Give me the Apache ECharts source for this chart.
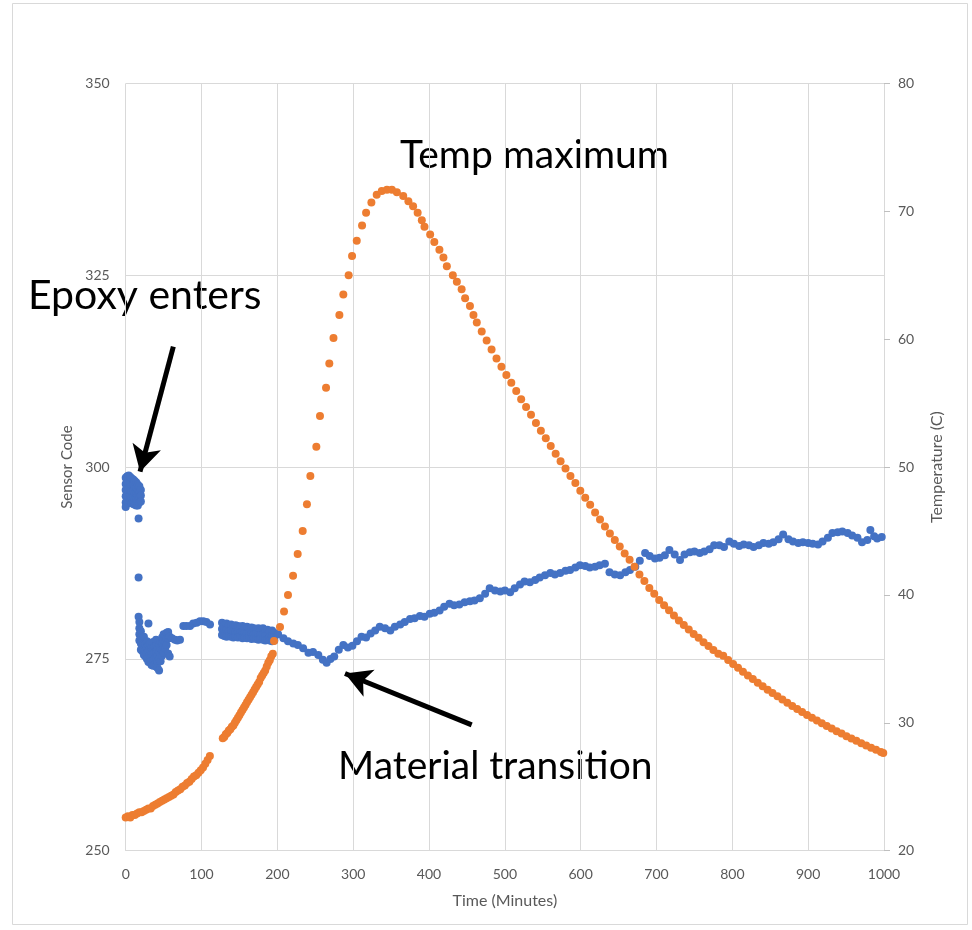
<!DOCTYPE html>
<html>
<head>
<meta charset="utf-8">
<script src="https://cdn.jsdelivr.net/npm/echarts@6/dist/echarts.min.js"></script>
<style>
html,body{margin:0;padding:0;background:#fff;}
#chart{width:972px;height:930px;}
</style>
</head>
<body>
<div id="chart"></div>
<script>
// ---- Data (time in minutes) ----
// Sensor code, early cluster (epoxy entering)
var sensorBlob = [
 [0,298.6],[0,297.8],[0,297.0],[0,296.2],[0,295.4],[0,294.8],
 [2,298.8],[2,298.0],[2,297.1],[2,296.3],[2,295.5],
 [4,298.9],[4,297.9],[4,297.2],[4,296.1],[4,295.3],
 [6,298.7],[6,297.8],[6,296.9],[6,296.2],[6,295.6],
 [8,298.5],[8,297.6],[8,296.8],[8,296.0],[8,295.3],
 [10,298.4],[10,297.7],[10,296.9],[10,296.1],[10,295.2],
 [12,298.2],[12,297.4],[12,296.6],[12,295.8],[12,295.1],
 [14,298.0],[14,297.3],[14,296.5],[14,295.7],[14,295.0],
 [16,297.7],[16,297.0],[16,296.3],[16,295.6],[16,295.0],
 [18,297.5],[18,296.8],[18,296.1],[18,295.4],
 [20,297.0],[20,296.3],[20,295.5],
 [17,293.3],[17,285.6],[17,280.5]
];
// Sensor code, dip after epoxy enters
var sensorDip = [
 [18,279.8],[18,279.0],[18,278.2],[18,277.4],
 [20,278.6],[20,277.8],[20,277.0],[20,276.2],
 [22,277.6],[22,276.8],[22,276.0],
 [24,277.9],[24,277.0],[24,276.2],[24,275.5],
 [26,276.9],[26,276.1],[26,275.3],
 [28,277.3],[28,276.5],[28,275.7],[28,275.0],
 [30,279.6],[30,276.8],[30,276.0],[30,275.2],[30,274.6],
 [32,277.0],[32,276.2],[32,275.4],[32,274.6],
 [34,276.4],[34,275.6],[34,274.8],[34,274.2],
 [36,277.2],[36,276.4],[36,275.6],[36,274.8],[36,274.1],
 [38,276.6],[38,275.8],[38,275.0],[38,274.2],
 [40,277.5],[40,276.7],[40,275.9],[40,275.1],[40,274.0],
 [42,276.3],[42,275.4],[42,274.6],[42,273.8],
 [44,276.8],[44,275.9],[44,275.0],[44,273.5],
 [46,277.3],[46,276.4],[46,275.5],[46,274.7],
 [48,277.8],[48,277.0],[48,276.2],[48,275.4],
 [50,278.2],[50,277.4],[50,276.6],[50,275.8],
 [52,278.0],[52,277.2],[52,276.4],
 [54,278.4],[54,277.6],[54,276.8],
 [56,278.5],[56,277.7],[56,275.7],
 [58,277.9],[58,275.3],
 [61,277.7],[65,277.5],[68,277.4],[71.6,277.5],
 [76,279.3],[80,279.3],[84.8,279.3],[89,279.6],[93.6,279.7],
 [98,279.9],[102.3,279.9],[106.5,279.8],[111.2,279.5]
];
// Sensor code, dense band 127-196 min
var sensorBand = [
 [127,279.7],[127,278.9],[127,278.1],[130,279.5],[130,278.7],[130,278.0],
 [133,279.6],[133,278.8],[133,277.9],[136,279.4],[136,278.6],[136,278.0],
 [139,279.5],[139,278.7],[139,277.9],[142,279.3],[142,278.6],[142,277.8],
 [145,279.4],[145,278.5],[145,277.9],[148,279.3],[148,278.6],[148,277.8],
 [151,279.2],[151,278.4],[151,277.9],[154,279.3],[154,278.5],[154,277.7],
 [157,279.1],[157,278.4],[157,277.8],[160,279.2],[160,278.3],[160,277.7],
 [163,279.0],[163,278.4],[163,277.8],[166,279.1],[166,278.3],[166,277.6],
 [169,279.0],[169,278.2],[169,277.7],[172,278.9],[172,278.3],[172,277.6],
 [175,279.0],[175,278.2],[175,277.5],[178,278.8],[178,278.1],[178,277.6],
 [181,279.0],[181,278.2],[181,277.5],[184,278.7],[184,278.0],[184,277.4],
 [187,278.8],[187,278.1],[187,277.5],[190,278.6],[190,277.9],[190,277.4],
 [193,278.7],[193,278.0],[193,277.3],[196,278.4],[196,277.8],[196,277.4]
];
// Sensor code, 200-1000 min
var sensorLate = [
 [201,278.2],[208,277.7],[214,277.3],[221,277.0],[227,276.8],[234,276.4],[241,275.8],
 [247,275.9],[254,275.5],[260,274.9],[265,274.5],[270,275.0],[275,275.3],[281,276.2],
 [287,276.8],[293,276.5],[299,276.7],[305,277.3],[311,277.9],[317,277.8],[323,278.3],
 [329,278.7],[335,279.2],[342,279.0],[349,278.7],[355,279.2],[362,279.5],[368,279.8],
 [375,280.2],[381,280.3],[388,280.6],[394,280.5],[401,280.9],[407,281.0],[414,281.3],
 [420,281.8],[427,282.2],[433,282.0],[440,282.1],[447,282.4],[454,282.5],[460,282.6],
 [467,282.9],[474,283.5],[480,284.2],[487,283.9],[494,283.8],[500,283.9],[507,283.7],
 [513,284.2],[520,284.7],[526,285.1],[533,285.0],[540,285.3],[546,285.6],[553,285.9],
 [560,286.2],[566,286.0],[573,286.2],[580,286.5],[586,286.6],[593,286.9],[599,287.2],
 [606,287.1],[612,286.9],[619,287.0],[625,287.2],[632,287.4],[638,286.3],[645,286.0],
 [652,285.9],[659,286.3],[665,286.6],[672,287.0],[678,287.8],[685,288.8],[691,288.4],
 [698,288.1],[704,288.2],[711,288.5],[717,289.2],[724,288.6],[731,287.9],[737,288.6],
 [744,288.9],[750,289.0],[757,288.8],[763,289.0],[770,289.3],[776,289.8],[783,289.8],
 [789,289.6],[796,290.3],[802,290.0],[809,289.7],[815,289.9],[822,289.8],[828,289.6],
 [835,289.8],[841,290.1],[848,290.0],[854,290.2],[861,290.6],[867,291.2],[874,290.6],
 [880,290.3],[887,290.1],[893,290.2],[900,290.1],[906,290.0],[913,289.9],[919,290.3],
 [926,290.8],[932,291.4],[939,291.5],[945,291.6],[952,291.4],[958,291.1],[965,290.8],
 [971,290.2],[978,290.5],[982,291.8],[987,291.0],[991,290.7],[997,290.9]
];
// Temperature (C)
var tempEarly = [
 [0,22.6],[3,22.7],[6,22.6],[9,22.8],[12,22.8],[15,22.9],[18,23.0],[21,23.0],
 [24,23.1],[27,23.2],[30,23.3],[33,23.3],[36,23.5],[39,23.6],[42,23.7],[45,23.8],
 [48,23.9],[51,24.0],[54,24.1],[57,24.2],[60,24.3],[63,24.4],[66,24.6],[69,24.7],
 [72,24.8],[75,25.0],[78,25.1],[81,25.3],[84,25.4],[87,25.6],[90,25.8],[93,25.9],
 [96,26.1],[99,26.3],[102,26.5],[105,26.8],[108,27.1],[111,27.4]
];
var tempBand = [
 [128,28.8],[130,28.9],[132,29.1],[134,29.2],[136,29.4],[138,29.5],[140,29.7],
 [142,29.8],[144,30.0],[146,30.2],[148,30.4],[150,30.6],[152,30.8],[154,31.0],
 [156,31.2],[158,31.4],[160,31.6],[162,31.8],[164,32.0],[166,32.2],[168,32.4],
 [170,32.6],[172,32.8],[174,33.0],[176,33.2],[178,33.5],[180,33.7],[182,33.9],
 [184,34.1],[186,34.4],[188,34.7],[190,34.9],[192,35.2],[194,35.4]
];
var tempLate = [
 [195.6,36.4],[203.5,37.5],[208.8,38.7],[214,40.0],[220.7,41.5],[226.8,43.2],
 [233.4,45.0],[239,47.1],[243.5,49.3],[251.4,51.6],[256.2,54.0],[264.2,56.2],
 [268.5,58.1],[274,60.1],[281.8,61.9],[287,63.5],[294,65.0],[298.5,66.5],
 [304.7,67.7],[311.7,68.9],[317,69.9],[324,70.7],[331,71.3],[337.7,71.6],
 [344.5,71.7],[351,71.7],[357.6,71.5],[366,71.2],[372.8,70.8],[379,70.4],
 [385,69.9],[390.5,69.3],[394,68.8],[401.5,68.2],[407,67.6],[413.7,67.0],
 [419,66.4],[423.5,65.7],[431.4,65.0],[436.7,64.5],[443,63.9],[447.6,63.2],
 [454,62.6],[458.6,61.9],[463,61.3],[469.5,60.6],[476,59.9],[482.5,59.2],
 [489,58.5],[495.5,57.85],[502,57.2],[508.5,56.6],[515,55.95],[521.5,55.3],
 [528,54.7],[534.5,54.1],[541,53.45],[547.5,52.85],[554,52.25],[560.5,51.65],
 [567,51.05],[573.5,50.45],[580,49.9],[586.5,49.3],[593,48.75],[599.5,48.15],
 [606,47.6],[612.5,47.05],[619,46.45],[625.5,45.9],[632,45.35],[638.5,44.8],
 [645,44.3],[651.5,43.8],[658,43.25],[664.5,42.75],[671,42.2],[677.5,41.6],
 [684,41.1],[690.5,40.55],[697,40.1],[703.5,39.6],[710,39.2],[716.5,38.8],
 [723,38.4],[729.5,38.0],[736,37.65],[742.5,37.3],[749,36.95],[755.5,36.65],
 [762,36.3],[768.5,36.0],[775,35.7],[781.5,35.4],[788,35.25],[794.5,34.92],
 [801,34.61],[807.5,34.30],[814,34.0],[820.5,33.71],[827,33.42],[833.5,33.14],
 [840,32.86],[846.5,32.59],[853,32.33],[859.5,32.07],[866,31.82],[872.5,31.57],
 [879,31.32],[885.5,31.09],[892,30.85],[898.5,30.62],[905,30.40],[911.5,30.18],
 [918,29.97],[924.5,29.76],[931,29.55],[937.5,29.35],[944,29.16],[950.5,28.96],
 [957,28.78],[963.5,28.59],[970,28.41],[976.5,28.23],[983,28.06],[989.5,27.89],
 [996,27.72],[999,27.65]
];
// Axis ranges / tick steps
var xTicks = {min:0, max:1000, step:100};
var sensorTicks = {min:250, max:350, step:25};
var tempTicks = {min:20, max:80, step:10};
// Annotations (data coordinates on the sensor axis)
var arrowEpoxy = [[62.8,315.7],[18.9,299.4]];
var arrowTransition = [[456.3,266.4],[289.2,273.1]];

var sensorData = sensorBlob.concat(sensorDip, sensorBand, sensorLate);
var tempData = tempEarly.concat(tempBand, tempLate);

var gray = '#595959', grid = '#d9d9d9';
var font = 'Lato, "Open Sans", sans-serif';
var chart = echarts.init(document.getElementById('chart'));
chart.setOption({
  animation:false,
  backgroundColor:'#fff',
  textStyle:{fontFamily:font},
  grid:{left:125.7, right:88, top:83.5, bottom:79.3, containLabel:false},
  xAxis:{type:'value', min:xTicks.min, max:xTicks.max, interval:xTicks.step,
    name:'Time (Minutes)', nameLocation:'middle', nameGap:42,
    nameTextStyle:{color:gray, fontSize:16, fontFamily:font},
    axisLine:{show:true, lineStyle:{color:grid}}, axisTick:{show:false},
    axisLabel:{color:gray, fontSize:14, margin:17, fontFamily:font,
      formatter:function(v){return String(v);}},
    splitLine:{show:true, lineStyle:{color:grid, width:1}}},
  yAxis:[
   {type:'value', min:sensorTicks.min, max:sensorTicks.max, interval:sensorTicks.step,
    name:'Sensor Code', nameLocation:'middle', nameGap:51,
    nameTextStyle:{color:gray, fontSize:15, fontFamily:font},
    axisLine:{show:false}, axisTick:{show:false},
    axisLabel:{color:gray, fontSize:14, margin:16, fontFamily:font},
    splitLine:{show:true, lineStyle:{color:grid, width:1}}},
   {type:'value', min:tempTicks.min, max:tempTicks.max, interval:tempTicks.step, position:'right',
    name:'Temperature (C)', nameLocation:'middle', nameGap:45,
    nameTextStyle:{color:gray, fontSize:16, fontFamily:font},
    axisLine:{show:true, lineStyle:{color:grid}},
    axisTick:{show:true, length:6, lineStyle:{color:'#bfbfbf'}},
    axisLabel:{color:gray, fontSize:14, margin:14, fontFamily:font},
    splitLine:{show:false}}
  ],
  series:[
   {type:'scatter', name:'Sensor Code', yAxisIndex:0, data:sensorData, symbolSize:8,
    itemStyle:{color:'#4472C4', opacity:1},
    markLine:{silent:true, symbol:['none','arrow'], symbolSize:[22,26],
      label:{show:false},
      lineStyle:{color:'#000', width:5, type:'solid'},
      data:[
        [{coord:arrowEpoxy[0]},{coord:arrowEpoxy[1]}],
        [{coord:arrowTransition[0]},{coord:arrowTransition[1]}]
      ]}},
   {type:'scatter', name:'Temperature', yAxisIndex:1, data:tempData, symbolSize:8,
    itemStyle:{color:'#ED7D31', opacity:1}}
  ],
  graphic:[
   {type:'rect', shape:{x:12.5, y:3.5, width:955, height:921}, style:{fill:'none', stroke:'#d9d9d9', lineWidth:1}, silent:true, z:-10},
   {type:'text', left:400, top:136, style:{text:'Temp maximum', fontSize:39, fontFamily:font, fill:'#000'}},
   {type:'text', left:28, top:275, style:{text:'Epoxy enters', fontSize:41, fontFamily:font, fill:'#000'}},
   {type:'text', left:338, top:747, style:{text:'Material transition', fontSize:39, fontFamily:font, fill:'#000'}}
  ]
});
</script>
</body>
</html>
